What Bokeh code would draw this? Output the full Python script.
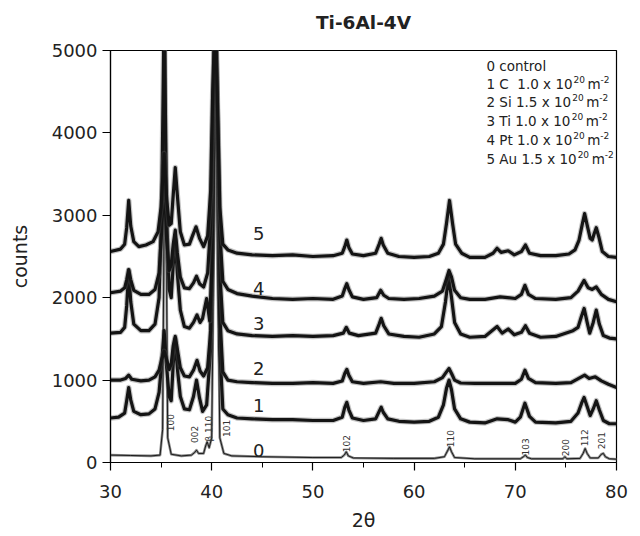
from bokeh.plotting import figure
from bokeh.models import Range1d, Label, FixedTicker, LinearAxis
from bokeh.embed import file_html
from bokeh.resources import INLINE

# ---------------- data ----------------
tt5 = [30.0, 31.0, 31.4, 31.6, 31.8, 32.0, 32.3, 32.8, 33.5, 34.2, 34.7, 35.0, 35.3, 35.55, 35.8, 36.0, 36.2, 36.4, 36.6, 36.9, 37.3, 37.8, 38.1, 38.45, 38.8, 39.2, 39.6, 39.9, 40.1, 40.35, 40.6, 40.8, 41.1, 41.6, 42.5, 44.0, 46.0, 48.0, 50.0, 52.0, 52.9, 53.15, 53.35, 53.55, 53.9, 55.0, 56.2, 56.55, 56.75, 56.95, 57.4, 58.5, 60.0, 61.5, 62.4, 62.9, 63.2, 63.5, 63.8, 64.1, 64.7, 65.5, 67.0, 67.8, 68.2, 68.6, 69.3, 69.9, 70.6, 71.0, 71.4, 72.5, 74.0, 75.3, 75.9, 76.3, 76.6, 76.85, 77.1, 77.4, 77.6, 77.8, 78.0, 78.25, 78.6, 79.2, 80.0]
c5 = [2560, 2590, 2650, 2850, 3180, 2870, 2680, 2620, 2640, 2680, 2800, 3100, 3750, 3200, 2880, 2900, 3250, 3580, 3250, 2800, 2640, 2650, 2750, 2860, 2720, 2620, 2750, 3300, 4500, 5500, 4200, 3100, 2650, 2580, 2540, 2520, 2510, 2520, 2500, 2510, 2540, 2620, 2700, 2610, 2530, 2510, 2540, 2650, 2720, 2640, 2540, 2500, 2490, 2500, 2540, 2650, 2900, 3180, 2900, 2650, 2540, 2490, 2490, 2540, 2600, 2550, 2570, 2520, 2560, 2640, 2540, 2510, 2510, 2530, 2580, 2700, 2880, 3020, 2880, 2720, 2700, 2780, 2850, 2740, 2560, 2500, 2490]

tt4 = [30.0, 31.0, 31.4, 31.6, 31.8, 32.0, 32.3, 33.0, 33.8, 34.4, 34.8, 35.05, 35.3, 35.55, 35.8, 36.0, 36.2, 36.4, 36.6, 36.9, 37.3, 37.8, 38.2, 38.5, 38.8, 39.2, 39.6, 39.9, 40.1, 40.35, 40.6, 40.8, 41.1, 41.6, 42.5, 44.0, 46.0, 48.0, 50.0, 52.0, 52.9, 53.15, 53.35, 53.55, 53.9, 55.0, 56.3, 56.7, 57.0, 57.5, 59.0, 60.5, 62.0, 62.8, 63.2, 63.45, 63.7, 64.0, 64.6, 65.5, 67.0, 68.5, 70.0, 70.6, 70.95, 71.3, 72.0, 74.0, 75.5, 76.2, 76.8, 77.2, 77.6, 78.0, 78.5, 79.2, 80.0]
c4 = [2060, 2080, 2120, 2220, 2340, 2220, 2090, 2040, 2040, 2100, 2300, 2800, 3500, 2700, 2330, 2400, 2650, 2820, 2550, 2250, 2120, 2110, 2180, 2260, 2170, 2130, 2300, 2900, 4200, 5500, 4000, 2800, 2200, 2100, 2050, 2020, 1990, 1980, 1990, 1980, 2020, 2110, 2170, 2100, 2010, 1980, 2000, 2090, 2030, 1990, 1980, 1990, 2020, 2080, 2230, 2330, 2250, 2090, 2000, 1980, 1980, 2010, 1990, 2040, 2150, 2040, 1990, 1980, 2000, 2080, 2210, 2120, 2100, 2130, 2040, 1980, 1950]

tt3 = [30.0, 31.0, 31.4, 31.6, 31.8, 32.0, 32.3, 33.0, 33.8, 34.4, 34.8, 35.05, 35.3, 35.55, 35.8, 36.0, 36.2, 36.4, 36.6, 36.9, 37.3, 37.8, 38.2, 38.55, 38.85, 39.1, 39.5, 39.8, 40.0, 40.2, 40.4, 40.65, 40.85, 41.1, 41.6, 42.5, 44.0, 46.0, 48.0, 50.0, 52.0, 53.0, 53.3, 53.6, 54.5, 56.2, 56.55, 56.75, 57.0, 57.5, 59.0, 60.5, 62.0, 62.7, 63.1, 63.4, 63.7, 64.0, 64.6, 65.5, 67.0, 68.2, 68.7, 69.3, 69.9, 70.6, 71.0, 71.4, 72.5, 74.0, 75.7, 76.2, 76.5, 76.8, 77.1, 77.35, 77.7, 78.0, 78.3, 78.7, 79.3, 80.0]
c3 = [1570, 1580, 1640, 1900, 2330, 1950, 1680, 1600, 1600, 1680, 2000, 3000, 5500, 3000, 2100, 2000, 2400, 2700, 2300, 1850, 1650, 1630, 1700, 1790, 1700, 1750, 1990, 1720, 2300, 4000, 5500, 3500, 2200, 1700, 1600, 1560, 1540, 1530, 1540, 1530, 1540, 1570, 1640, 1570, 1540, 1570, 1680, 1750, 1660, 1560, 1530, 1520, 1560, 1650, 1950, 2250, 2000, 1700, 1560, 1520, 1530, 1650, 1570, 1620, 1550, 1580, 1660, 1570, 1520, 1530, 1600, 1640, 1760, 1870, 1700, 1570, 1700, 1850, 1680, 1540, 1510, 1500]

tt2 = [30.0, 31.0, 31.5, 31.8, 32.1, 33.0, 33.8, 34.4, 34.8, 35.05, 35.3, 35.55, 35.8, 36.0, 36.2, 36.4, 36.6, 36.9, 37.3, 37.8, 38.2, 38.55, 38.85, 39.2, 39.6, 39.9, 40.1, 40.35, 40.6, 40.8, 41.1, 41.6, 42.5, 44.0, 46.0, 48.0, 50.0, 52.0, 52.9, 53.15, 53.35, 53.55, 53.9, 55.0, 56.7, 58.0, 60.0, 62.0, 62.8, 63.2, 63.45, 63.7, 64.0, 64.6, 66.0, 68.0, 70.0, 70.6, 70.95, 71.3, 72.0, 74.0, 75.5, 76.4, 76.85, 77.3, 77.9, 78.5, 79.2, 80.0]
c2 = [1000, 1000, 1020, 1060, 1010, 990, 1000, 1040, 1120, 1250, 1350, 1250, 1130, 1200, 1420, 1530, 1380, 1150, 1050, 1040, 1120, 1240, 1110, 1050, 1150, 1600, 2600, 5500, 3500, 1800, 1100, 1000, 980, 970, 960, 960, 970, 960, 990, 1080, 1130, 1060, 980, 960, 980, 960, 960, 980, 1030, 1100, 1140, 1080, 1000, 965, 960, 960, 960, 1010, 1120, 1020, 970, 960, 970, 1030, 1060, 1020, 1040, 990, 950, 910]

tt1 = [30.0, 30.8, 31.4, 31.6, 31.8, 32.0, 32.3, 33.0, 33.8, 34.4, 34.8, 35.05, 35.3, 35.55, 35.8, 36.0, 36.2, 36.4, 36.6, 36.9, 37.3, 37.8, 38.2, 38.5, 38.8, 39.1, 39.5, 39.9, 40.15, 40.35, 40.6, 40.8, 41.1, 41.6, 42.5, 44.0, 46.0, 48.0, 50.0, 52.0, 52.9, 53.15, 53.35, 53.55, 53.9, 55.0, 56.2, 56.55, 56.75, 56.95, 57.4, 58.5, 60.0, 61.5, 62.4, 62.9, 63.2, 63.45, 63.7, 64.0, 64.6, 65.5, 67.0, 68.2, 69.3, 70.0, 70.5, 70.95, 71.4, 72.0, 74.0, 75.5, 76.2, 76.55, 76.8, 77.1, 77.4, 77.7, 78.0, 78.3, 78.7, 79.3, 80.0]
c1 = [540, 550, 600, 750, 910, 760, 620, 580, 590, 650, 850, 1200, 1600, 1150, 800, 750, 1200, 1500, 1150, 800, 650, 640, 800, 1000, 780, 620, 700, 1400, 3500, 5500, 3500, 1400, 650, 580, 540, 530, 520, 520, 510, 510, 550, 670, 730, 640, 540, 510, 530, 620, 670, 610, 530, 500, 490, 500, 550, 700, 900, 1000, 880, 650, 530, 490, 480, 530, 520, 490, 550, 720, 560, 490, 480, 500, 600, 720, 790, 680, 570, 650, 750, 640, 510, 470, 470]

tt0 = [30.0, 32.0, 34.0, 34.9, 35.15, 35.3, 35.4, 35.5, 35.65, 36.0, 37.0, 38.0, 38.3, 38.5, 38.7, 39.2, 39.4, 39.55, 39.75, 40.0, 40.2, 40.4, 40.6, 40.8, 41.2, 42.0, 45.0, 50.0, 52.8, 53.1, 53.3, 53.5, 54.0, 58.0, 62.0, 63.0, 63.3, 63.5, 63.7, 64.0, 66.0, 70.5, 70.8, 71.0, 71.2, 71.6, 74.7, 74.9, 75.1, 76.4, 76.7, 76.9, 77.1, 77.4, 78.2, 78.5, 78.7, 78.9, 79.3, 80.0]
c0 = [90, 85, 80, 90, 400, 3000, 7000, 3000, 300, 100, 80, 90, 120, 150, 110, 110, 200, 250, 180, 300, 2500, 7000, 2500, 300, 110, 80, 70, 60, 60, 90, 130, 80, 55, 50, 50, 70, 140, 190, 130, 60, 45, 45, 70, 90, 60, 45, 45, 70, 45, 50, 110, 170, 110, 55, 55, 100, 110, 70, 45, 40]

trace_x = [tt0, tt1, tt2, tt3, tt4, tt5]
trace_y = [c0, c1, c2, c3, c4, c5]

trace_names = ["0", "1", "2", "3", "4", "5"]
trace_label_x = [44.65] * 6
trace_label_y = [150, 690, 1140, 1690, 2110, 2780]

hkl_text = ["100", "002", "\u03b2 110", "101", "102", "110", "103", "200", "112", "201"]
hkl_x = [35.9, 38.3, 39.7, 41.5, 53.35, 63.6, 71.0, 74.96, 76.84, 78.5]
hkl_y = [485, 340, 410, 415, 230, 290, 190, 180, 300, 265]

legend_main = ["0 control", "1 C\u00a0\u00a01.0 x 10", "2 Si 1.5 x 10", "3 Ti 1.0 x 10", "4 Pt 1.0 x 10", "5 Au 1.5 x 10"]
legend_y = [4813, 4591, 4372, 4145, 3911, 3680]
legend_x = 67.15

title_text = "Ti-6Al-4V"

x_major = [30, 40, 50, 60, 70, 80]
x_minor = [35, 45, 55, 65, 75]
y_major = [0, 1000, 2000, 3000, 4000, 5000]

FONT = "DejaVu Sans"
LEG_PX = 13.5
# DejaVu Sans advance widths (em) used to place superscripts after the text
ADV = {"0": .636, "1": .636, "2": .636, "3": .636, "4": .636, "5": .636, " ": .318, "\u00a0": .318,
       ".": .318, "x": .592, "C": .698, "S": .635, "i": .278, "T": .611, "P": .603, "t": .392,
       "A": .684, "u": .634}

# ---------------- figure ----------------
p = figure(width=632, height=536, x_range=Range1d(30, 80), y_range=Range1d(0, 5000),
           output_backend="svg", toolbar_location=None,
           min_border_left=110, min_border_right=16, min_border_top=50, min_border_bottom=74)
p.xgrid.visible = False
p.ygrid.visible = False
p.outline_line_color = "black"
p.outline_line_width = 1.2
p.background_fill_color = "white"
p.border_fill_color = "white"

xb = p.below[0]
xb.ticker = FixedTicker(ticks=x_major, minor_ticks=x_minor)
xb.axis_label = "2\u03b8"
yl = p.left[0]
yl.ticker = FixedTicker(ticks=y_major)
yl.axis_label = "counts"

for ax in (xb, yl):
    ax.major_label_text_font = FONT
    ax.major_label_text_font_size = "18px"
    ax.major_label_text_color = "#222222"
    ax.axis_label_text_font = FONT
    ax.axis_label_text_font_size = "19px"
    ax.axis_label_text_font_style = "normal"
    ax.axis_label_text_color = "#222222"
    ax.axis_line_color = "black"
    ax.axis_line_width = 1.2
    ax.major_tick_line_color = "black"
    ax.major_tick_line_width = 1.2
    ax.major_tick_in = 0
    ax.major_tick_out = 8
    ax.minor_tick_in = 0
    ax.minor_tick_out = 5
xb.major_label_standoff = 14
xb.axis_label_standoff = 8
yl.major_label_standoff = 5
yl.axis_label_standoff = 18
yl.minor_tick_line_color = None

# title drawn as the label of a tick-less top axis
top = LinearAxis(ticker=FixedTicker(ticks=[]), axis_label=title_text)
top.axis_line_color = None
top.major_tick_line_color = None
top.minor_tick_line_color = None
top.axis_label_text_font = FONT
top.axis_label_text_font_size = "18.5px"
top.axis_label_text_font_style = "bold"
top.axis_label_text_color = "#222222"
top.axis_label_standoff = 18
p.add_layout(top, "above")

# ---------------- traces ----------------
for i in range(6):
    if i == 0:
        p.line(trace_x[i], trace_y[i], line_color="#8a8a8a", line_width=2.6, line_join="round")
        p.line(trace_x[i], trace_y[i], line_color="#111111", line_width=0.9, line_join="round")
    else:
        p.line(trace_x[i], trace_y[i], line_color="#555555", line_width=5.5, line_alpha=0.35,
               line_join="round")
        p.line(trace_x[i], trace_y[i], line_color="#141414", line_width=3.2, line_join="round")

for name, lx, ly in zip(trace_names, trace_label_x, trace_label_y):
    p.add_layout(Label(x=lx, y=ly, text=name, text_font=FONT, text_font_size="18px",
                       text_color="#222222", text_align="center", text_baseline="middle"))

for t, hx, hy in zip(hkl_text, hkl_x, hkl_y):
    p.add_layout(Label(x=hx, y=hy, text=t, angle=1.5708, text_font=FONT, text_font_size="9px",
                       text_color="#333333", text_align="center", text_baseline="middle"))

for k, (txt, ly) in enumerate(zip(legend_main, legend_y)):
    p.add_layout(Label(x=legend_x, y=ly, text=txt, text_font=FONT, text_font_size=f"{LEG_PX}px",
                       text_color="#222222", text_align="left", text_baseline="middle"))
    if k > 0:
        w = sum(ADV.get(ch, .6) for ch in txt) * LEG_PX
        p.add_layout(Label(x=legend_x, y=ly + 60, x_offset=w + 1, text="20", text_font=FONT,
                           text_font_size="9px", text_color="#222222", text_baseline="middle"))
        p.add_layout(Label(x=legend_x, y=ly, x_offset=w + 15, text="m", text_font=FONT,
                           text_font_size=f"{LEG_PX}px", text_color="#222222", text_baseline="middle"))
        p.add_layout(Label(x=legend_x, y=ly + 60, x_offset=w + 28, text="-2", text_font=FONT,
                           text_font_size="9px", text_color="#222222", text_baseline="middle"))

open("out.html", "w").write(file_html(p, INLINE))
